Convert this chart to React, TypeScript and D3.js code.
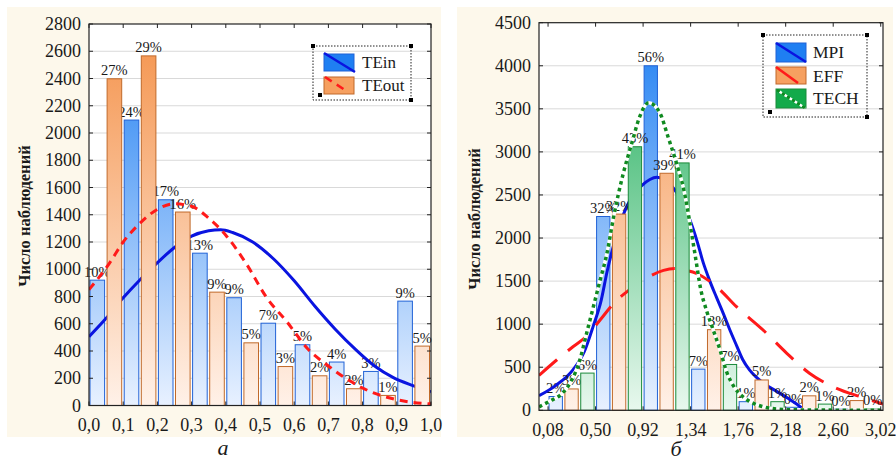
import React from 'react';
import * as d3 from 'd3';

// ---------- Left chart data (а) ----------
const leftBinStarts = [0, 0.1, 0.2, 0.3, 0.4, 0.5, 0.6, 0.7, 0.8, 0.9];
const teIn = [920, 2095, 1510, 1118, 791, 604, 446, 319, 250, 766];
const teOut = [2398, 2566, 1420, 832, 460, 286, 218, 123, 74, 436];
const teInPct = ['10%', '24%', '17%', '13%', '9%', '7%', '5%', '4%', '3%', '9%'];
const teOutPct = ['27%', '29%', '16%', '9%', '5%', '3%', '2%', '2%', '1%', '5%'];
const teInFit: [number, number][] = [
  [0, 505], [0.05, 640], [0.1, 790], [0.15, 925], [0.2, 1048], [0.25, 1160], [0.3, 1243],
  [0.35, 1282], [0.385, 1290], [0.42, 1270], [0.48, 1198], [0.54, 1075], [0.6, 915],
  [0.66, 730], [0.72, 560], [0.78, 410], [0.835, 290], [0.89, 205], [0.945, 148], [1.0, 100],
];
const teOutFit: [number, number][] = [
  [0, 850], [0.06, 1045], [0.1, 1200], [0.15, 1340], [0.2, 1440], [0.25, 1480], [0.3, 1462],
  [0.35, 1375], [0.4, 1250], [0.46, 1040], [0.52, 790], [0.58, 610], [0.64, 415], [0.7, 290],
  [0.76, 185], [0.82, 105], [0.88, 55], [0.94, 25], [1.0, 12],
];
const leftYTicks = [0, 200, 400, 600, 800, 1000, 1200, 1400, 1600, 1800, 2000, 2200, 2400, 2600, 2800];
const leftXTicks = [0, 0.1, 0.2, 0.3, 0.4, 0.5, 0.6, 0.7, 0.8, 0.9, 1.0];
const leftXLabels = ['0,0', '0,1', '0,2', '0,3', '0,4', '0,5', '0,6', '0,7', '0,8', '0,9', '1,0'];

// ---------- Right chart data (б) ----------
const rightBinStarts = [0.08, 0.5, 0.92, 1.34, 1.76, 2.18, 2.6];
const mpi = [160, 2250, 4000, 478, 100, 35, 15];
const eff = [248, 2278, 2752, 936, 352, 168, 113];
const tech = [432, 3060, 2872, 532, 100, 72, 18];
const mpiPct = ['2%', '32%', '56%', '7%', '1%', '0%', '0%'];
const effPct = ['3%', '32%', '39%', '13%', '5%', '2%', '2%'];
const techPct = ['6%', '43%', '41%', '7%', '1%', '1%', '0%'];
const mpiFit: [number, number][] = [
  [0, 170], [0.15, 290], [0.3, 470], [0.4, 680], [0.48, 980], [0.55, 1280], [0.6, 1600],
  [0.65, 1870], [0.72, 2180], [0.8, 2430], [0.9, 2600], [0.98, 2680], [1.04, 2705],
  [1.1, 2680], [1.2, 2560], [1.27, 2400], [1.334, 2208], [1.4, 1950], [1.45, 1720],
  [1.51, 1500], [1.566, 1319], [1.63, 1120], [1.687, 932], [1.75, 740], [1.8, 590],
  [1.86, 470], [1.92, 385], [2.0, 300], [2.1, 220], [2.2, 140], [2.28, 70], [2.32, 30],
];
const effFit: [number, number][] = [
  [0, 405], [0.156, 584], [0.3, 738], [0.42, 860], [0.54, 1048], [0.66, 1242], [0.8, 1400],
  [0.95, 1535], [1.1, 1625], [1.2, 1645], [1.275, 1630], [1.39, 1590], [1.57, 1435],
  [1.745, 1203], [1.98, 932], [2.19, 662], [2.39, 430], [2.63, 255], [2.84, 158], [3.04, 73],
];
const techFit: [number, number][] = [
  [0, 40], [0.1, 110], [0.2, 190], [0.28, 330], [0.36, 580], [0.42, 890], [0.48, 1200],
  [0.54, 1510], [0.6, 1820], [0.66, 2250], [0.745, 2751], [0.82, 3100], [0.89, 3409],
  [0.97, 3570], [1.07, 3448], [1.14, 3176], [1.215, 2868], [1.28, 2560], [1.33, 2200],
  [1.38, 1800], [1.43, 1400], [1.48, 1160], [1.54, 932], [1.6, 700], [1.66, 440],
  [1.72, 280], [1.8, 160], [1.88, 90], [1.98, 42], [2.1, 15], [2.3, 5], [2.6, 2], [3.04, 1],
];
const rightYTicks = [0, 500, 1000, 1500, 2000, 2500, 3000, 3500, 4000, 4500];
const rightXTicks = [0.08, 0.5, 0.92, 1.34, 1.76, 2.18, 2.6, 3.02];
const rightXLabels = ['0,08', '0,50', '0,92', '1,34', '1,76', '2,18', '2,60', '3,02'];

const FONT = '"Liberation Serif", "Times New Roman", serif';
const BLUE = { top: '#1f7ff2', bottom: '#e8f1ff', stroke: '#2162d6', solid: '#1f7ff2', line: '#0a14e0' };
const ORANGE = { top: '#f4924a', bottom: '#fff1e8', stroke: '#c0692a', solid: '#f6a060', line: '#ff1a1a' };
const GREEN = { top: '#18ab55', bottom: '#e8f8ee', stroke: '#1a8a3a', solid: '#12aa4a', line: '#108a20' };

type Pal = typeof BLUE;

function Grad({ id, pal, y1, y2 }: { id: string; pal: Pal; y1: number; y2: number }) {
  return (
    <linearGradient id={id} gradientUnits="userSpaceOnUse" x1={0} x2={0} y1={y1} y2={y2}>
      <stop offset="0%" stopColor={pal.top} />
      <stop offset="100%" stopColor={pal.bottom} />
    </linearGradient>
  );
}

function LegendBox({ x, y, w, h }: { x: number; y: number; w: number; h: number }) {
  const s = 4;
  return (
    <g>
      <rect x={x} y={y} width={w} height={h} fill="none" stroke="#222" strokeWidth={1} strokeDasharray="1.5,1.5" />
      <rect x={x - s / 2} y={y - s / 2} width={s} height={s} fill="#000" />
      <rect x={x + w - s / 2} y={y - s / 2} width={s} height={s} fill="#000" />
      <rect x={x + 5} y={y + h - 7} width={s} height={s} fill="#000" />
      <rect x={x + w - s / 2} y={y + h - s / 2} width={s} height={s} fill="#000" />
    </g>
  );
}

export default function App() {
  // ---- left scales ----
  const xL = d3.scaleLinear().domain([0, 1]).range([89, 431]);
  const yL = d3.scaleLinear().domain([0, 2800]).range([405.5, 24]);
  const binWL = xL(0.1) - xL(0);
  const halfL = binWL / 2;
  const lineL = d3.line<[number, number]>().x((d) => xL(d[0])).y((d) => yL(d[1])).curve(d3.curveMonotoneX);

  // ---- right scales ----
  const xR = d3.scaleLinear().domain([0, 3.04]).range([539, 883]);
  const yR = d3.scaleLinear().domain([0, 4500]).range([410.3, 22.7]);
  const binWR = xR(0.42) - xR(0);
  const thirdR = binWR / 3;
  const lineR = d3.line<[number, number]>().x((d) => xR(d[0])).y((d) => yR(d[1])).curve(d3.curveMonotoneX);

  const [lx0, lx1] = xL.range();
  const [ly0, ly1] = [yL(0), yL(2800)];
  const [rx0, rx1] = xR.range();
  const [ry0, ry1] = [yR(0), yR(4500)];

  const bars = (
    starts: number[], vals: number[], pct: string[], k: number, slot: number,
    xs: d3.ScaleLinear<number, number>, ys: d3.ScaleLinear<number, number>, fill: string, pal: Pal
  ) =>
    starts.map((s, i) => {
      const bx = xs(s) + k * slot + 1;
      const bw = slot - 2.5;
      const by = ys(vals[i]);
      return (
        <g key={`${fill}-${i}`}>
          <rect x={bx} y={by} width={bw} height={ys(0) - by} fill={`url(#${fill})`} stroke={pal.stroke} strokeWidth={1} />
          <text x={bx + bw / 2} y={by - 3.5} textAnchor="middle" fontSize={14.5} fill="#1a1a1a">{pct[i]}</text>
        </g>
      );
    });

  return (
    <svg width={896} height={461} style={{ position: 'absolute', left: 0, top: 0, background: '#fff' }} fontFamily={FONT}>
      <defs>
        <Grad id="gLB" pal={BLUE} y1={ly1} y2={ly0} />
        <Grad id="gLO" pal={ORANGE} y1={ly1} y2={ly0} />
        <Grad id="gRB" pal={BLUE} y1={ry1} y2={ry0} />
        <Grad id="gRO" pal={ORANGE} y1={ry1} y2={ry0} />
        <Grad id="gRG" pal={GREEN} y1={ry1} y2={ry0} />
        <clipPath id="clipL"><rect x={lx0} y={ly1} width={lx1 - lx0} height={ly0 - ly1} /></clipPath>
        <clipPath id="clipR"><rect x={rx0} y={ry1} width={rx1 - rx0} height={ry0 - ry1} /></clipPath>
      </defs>

      {/* panels */}
      <rect x={7} y={7} width={434} height={430} fill="#fdf8eb" />
      <rect x={457} y={7} width={436} height={430} fill="#fdf8eb" />

      {/* ===== LEFT CHART ===== */}
      <rect x={lx0} y={ly1} width={lx1 - lx0} height={ly0 - ly1} fill="#fff" />
      {leftYTicks.slice(1, -1).map((t) => (
        <line key={`lg${t}`} x1={lx0} x2={lx1} y1={yL(t)} y2={yL(t)} stroke="#d9d9d9" strokeWidth={1} />
      ))}
      {bars(leftBinStarts, teIn, teInPct, 0, halfL, xL, yL, 'gLB', BLUE)}
      <path d={lineL(teInFit) || ''} fill="none" stroke={BLUE.line} strokeWidth={3} clipPath="url(#clipL)" />
      {bars(leftBinStarts, teOut, teOutPct, 1, halfL, xL, yL, 'gLO', ORANGE)}
      <path d={lineL(teOutFit) || ''} fill="none" stroke={ORANGE.line} strokeWidth={3} strokeDasharray="8,6" clipPath="url(#clipL)" />
      <rect x={lx0} y={ly1} width={lx1 - lx0} height={ly0 - ly1} fill="none" stroke="#222" strokeWidth={1.2} />
      {leftXTicks.map((t) => (
        <g key={`lxt${t}`}>
          <line x1={xL(t)} x2={xL(t)} y1={ly0} y2={ly0 - 4} stroke="#222" />
          <line x1={xL(t)} x2={xL(t)} y1={ly1} y2={ly1 + 4} stroke="#222" />
        </g>
      ))}
      {leftYTicks.map((t) => (
        <g key={`lyt${t}`}>
          <line x1={lx0} x2={lx0 + 4} y1={yL(t)} y2={yL(t)} stroke="#222" />
          <line x1={lx1} x2={lx1 - 4} y1={yL(t)} y2={yL(t)} stroke="#222" />
          <text x={lx0 - 8} y={yL(t) + 6} textAnchor="end" fontSize={18} fill="#1a1a1a">{t}</text>
        </g>
      ))}
      {leftXTicks.map((t, i) => (
        <text key={`lxl${t}`} x={xL(t)} y={431} textAnchor="middle" fontSize={18} fill="#1a1a1a">{leftXLabels[i]}</text>
      ))}
      <text transform="translate(24,216) rotate(-90)" textAnchor="middle" dominantBaseline="central" fontSize={16.5} fontWeight="bold" fill="#1a1a1a">Число наблюдений</text>

      {/* left legend */}
      <LegendBox x={313} y={46} w={98} h={54} />
      <rect x={324} y={54} width={30} height={17} fill={BLUE.solid} stroke={BLUE.stroke} />
      <line x1={324} y1={53} x2={355} y2={72} stroke={BLUE.line} strokeWidth={2.5} />
      <text x={362} y={68} fontSize={17} fill="#1a1a1a">TEin</text>
      <rect x={324} y={77} width={30} height={17} fill={ORANGE.solid} stroke={ORANGE.stroke} />
      <line x1={325} y1={77} x2={348} y2={92} stroke={ORANGE.line} strokeWidth={2.5} strokeDasharray="8,6" />
      <text x={362} y={91} fontSize={17} fill="#1a1a1a">TEout</text>

      {/* ===== RIGHT CHART ===== */}
      <rect x={rx0} y={ry1} width={rx1 - rx0} height={ry0 - ry1} fill="#fff" />
      {rightYTicks.slice(1, -1).map((t) => (
        <line key={`rg${t}`} x1={rx0} x2={rx1} y1={yR(t)} y2={yR(t)} stroke="#d9d9d9" strokeWidth={1} />
      ))}
      {bars(rightBinStarts, mpi, mpiPct, 0, thirdR, xR, yR, 'gRB', BLUE)}
      <path d={lineR(mpiFit) || ''} fill="none" stroke={BLUE.line} strokeWidth={3} clipPath="url(#clipR)" />
      {bars(rightBinStarts, eff, effPct, 1, thirdR, xR, yR, 'gRO', ORANGE)}
      <path d={lineR(effFit) || ''} fill="none" stroke={ORANGE.line} strokeWidth={3} strokeDasharray="24,14" clipPath="url(#clipR)" />
      {bars(rightBinStarts, tech, techPct, 2, thirdR, xR, yR, 'gRG', GREEN)}
      <path d={lineR(techFit) || ''} fill="none" stroke="#fff" strokeWidth={3.5} clipPath="url(#clipR)" />
      <path d={lineR(techFit) || ''} fill="none" stroke={GREEN.line} strokeWidth={3.5} strokeDasharray="3.5,3.5" clipPath="url(#clipR)" />
      <rect x={rx0} y={ry1} width={rx1 - rx0} height={ry0 - ry1} fill="none" stroke="#222" strokeWidth={1.2} />
      {rightXTicks.map((t) => (
        <g key={`rxt${t}`}>
          <line x1={xR(t)} x2={xR(t)} y1={ry0} y2={ry0 - 4} stroke="#222" />
          <line x1={xR(t)} x2={xR(t)} y1={ry1} y2={ry1 + 4} stroke="#222" />
        </g>
      ))}
      {rightYTicks.map((t) => (
        <g key={`ryt${t}`}>
          <line x1={rx0} x2={rx0 + 4} y1={yR(t)} y2={yR(t)} stroke="#222" />
          <line x1={rx1} x2={rx1 - 4} y1={yR(t)} y2={yR(t)} stroke="#222" />
          <text x={rx0 - 8} y={yR(t) + 6} textAnchor="end" fontSize={18} fill="#1a1a1a">{t}</text>
        </g>
      ))}
      {rightXTicks.map((t, i) => (
        <text key={`rxl${t}`} x={xR(t)} y={436} textAnchor="middle" fontSize={18} fill="#1a1a1a">{rightXLabels[i]}</text>
      ))}
      <text transform="translate(474,219) rotate(-90)" textAnchor="middle" dominantBaseline="central" fontSize={16.5} fontWeight="bold" fill="#1a1a1a">Число наблюдений</text>

      {/* right legend */}
      <LegendBox x={763} y={35} w={104} h={82} />
      <rect x={776} y={43} width={30} height={19} fill={BLUE.solid} stroke={BLUE.stroke} />
      <line x1={776} y1={43} x2={806} y2={62} stroke={BLUE.line} strokeWidth={2.5} />
      <text x={813} y={58} fontSize={17.5} fill="#1a1a1a">MPI</text>
      <rect x={776} y={67} width={30} height={17} fill={ORANGE.solid} stroke={ORANGE.stroke} />
      <line x1={776} y1={67} x2={798} y2={83} stroke={ORANGE.line} strokeWidth={2.5} />
      <text x={813} y={82} fontSize={17.5} fill="#1a1a1a">EFF</text>
      <rect x={776} y={89} width={30} height={19} fill={GREEN.solid} stroke={GREEN.stroke} />
      <line x1={777} y1={90} x2={805} y2={108} stroke="#fff" strokeWidth={2.5} strokeDasharray="3,3" strokeDashoffset={3} />
      <line x1={777} y1={90} x2={805} y2={108} stroke={GREEN.line} strokeWidth={2.5} strokeDasharray="3,3" />
      <text x={813} y={104} fontSize={17.5} fill="#1a1a1a">TECH</text>

      {/* captions */}
      <text x={223} y={455} textAnchor="middle" fontSize={22} fontStyle="italic" fill="#1a1a1a">а</text>
      <text x={676} y={456} textAnchor="middle" fontSize={22} fontStyle="italic" fill="#1a1a1a">б</text>
    </svg>
  );
}
